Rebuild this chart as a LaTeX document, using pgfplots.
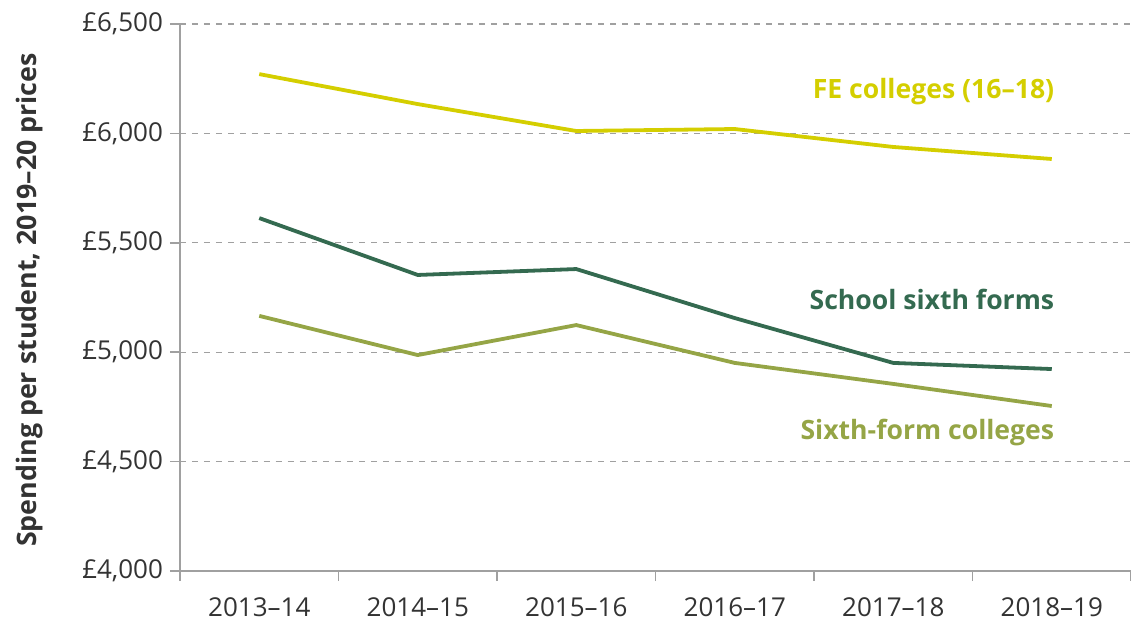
\documentclass[border=0pt]{standalone}
\usepackage{pgfplots}
\pgfplotsset{compat=1.18}
\usepackage{fontspec}
\setmainfont{Open Sans}
\definecolor{fecol}{RGB}{212,206,0}
\definecolor{schcol}{RGB}{52,106,80}
\definecolor{sfccol}{RGB}{149,165,70}
\definecolor{axgray}{RGB}{160,160,160}
\definecolor{txtgray}{RGB}{51,51,51}
\begin{document}
\begin{tikzpicture}
\useasboundingbox (0,0) rectangle (565.5bp,311.5bp);
\begin{axis}[
  at={(90bp,26bp)}, anchor=south west,
  scale only axis, width=475.5bp, height=273.5bp,
  xmin=-0.5, xmax=5.5, ymin=4000, ymax=6500,
  axis x line*=bottom, axis y line*=left,
  axis line style={axgray, line width=0.8bp},
  xtick={0,...,5},
  xticklabels={2013--14,2014--15,2015--16,2016--17,2017--18,2018--19},
  minor xtick={-0.5,0.5,...,5.5},
  major x tick style={draw=none},
  minor x tick style={axgray, line width=0.8bp},
  minor tick length=5bp,
  ytick={4000,4500,...,6500},
  yticklabels={{\pounds4,000},{\pounds4,500},{\pounds5,000},{\pounds5,500},{\pounds6,000},{\pounds6,500}},
  major y tick style={axgray, line width=0.8bp},
  major tick length=5bp,
  tick align=outside,
  ymajorgrids,
  grid style={dashed, axgray, line width=0.6bp},
  tick label style={font=\fontsize{13bp}{15bp}\selectfont, text=txtgray},
  yticklabel style={xshift=0bp},
  xticklabel style={yshift=-5bp},
  clip=false,
]
\addplot[fecol, line width=1.9bp] coordinates {(0,6271) (1,6134) (2,6011) (3,6020) (4,5938) (5,5883)};
\addplot[schcol, line width=1.9bp] coordinates {(0,5613) (1,5353) (2,5380) (3,5156) (4,4951) (5,4923)};
\addplot[sfccol, line width=1.9bp] coordinates {(0,5166) (1,4987) (2,5124) (3,4951) (4,4855) (5,4754)};
\node[anchor=east, text=fecol, font=\bfseries\fontsize{13.3bp}{16bp}\selectfont] at (axis cs:5.06,6189) {FE colleges (16--18)};
\node[anchor=east, text=schcol, font=\bfseries\fontsize{13.3bp}{16bp}\selectfont] at (axis cs:5.06,5239) {School sixth forms};
\node[anchor=east, text=sfccol, font=\bfseries\fontsize{13.3bp}{16bp}\selectfont] at (axis cs:5.06,4635) {Sixth-form colleges};
\node[rotate=90, text=txtgray, font=\bfseries\fontsize{13.4bp}{15bp}\selectfont] at (axis description cs:-0.158,0.4954) {Spending per student, 2019--20 prices};
\end{axis}
\end{tikzpicture}
\end{document}
